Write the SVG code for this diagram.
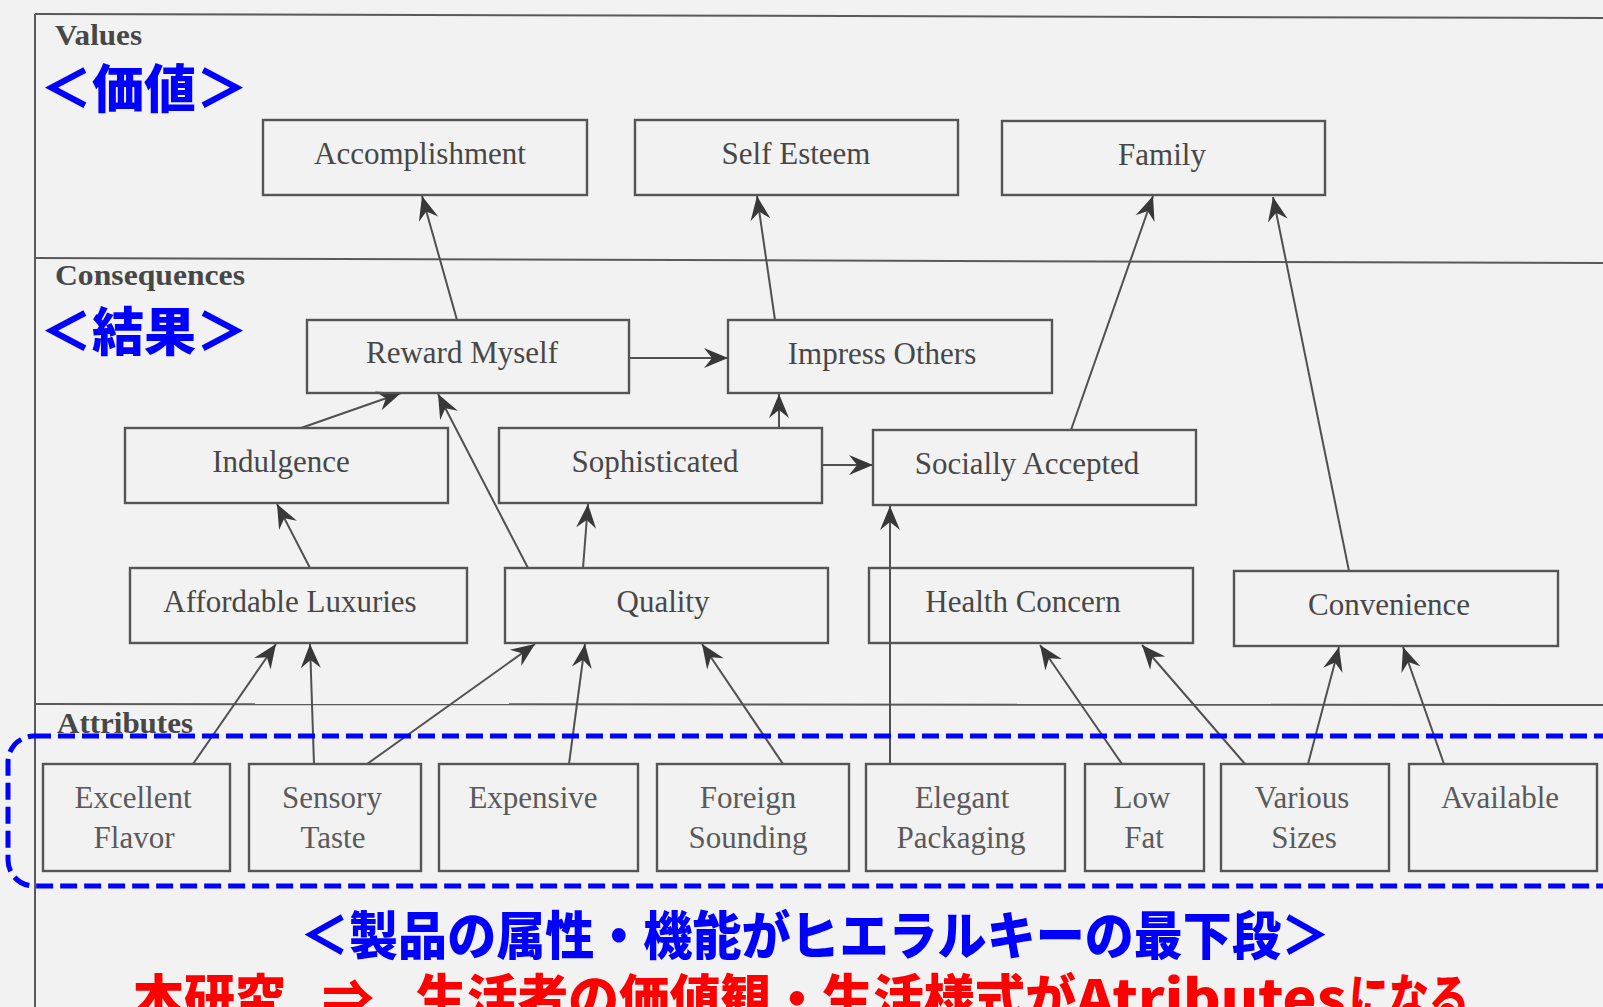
<svg xmlns="http://www.w3.org/2000/svg" width="1603" height="1007" viewBox="0 0 1603 1007">
  <defs>
    <marker id="arr" markerUnits="userSpaceOnUse" markerWidth="28" markerHeight="24" refX="0" refY="0" viewBox="-26 -12 28 24" orient="auto">
      <path d="M0,0 L-24,-10 L-16,0 L-24,10 Z" fill="#383838"/>
    </marker>
    <style>
      .frame { stroke: #5a5a5a; stroke-width: 2; fill: none; }
      .box { fill: none; stroke: #555; stroke-width: 2.4; }
      .lbl { font-family: "Liberation Serif", "Times New Roman", serif; font-size: 31px; fill: #474747; text-anchor: middle; }
      .att { fill: #5a5a5a; }
      .sec { font-family: "Liberation Serif", "Times New Roman", serif; font-size: 30px; font-weight: bold; fill: #474747; }
      .con { stroke: #505050; stroke-width: 2; fill: none; marker-end: url(#arr); }
      .jp { font-family: "Noto Sans CJK JP", "Noto Sans", sans-serif; font-weight: 900; font-size: 52px; }
      .blue { fill: #0000ff; }
      .red { fill: #ff0000; }
    </style>
  </defs>
  <rect x="0" y="0" width="1603" height="1007" fill="#f2f2f2"/>

  <g id="frame">
    <line class="frame" x1="35" y1="14" x2="1603" y2="18"/>
    <line class="frame" x1="35" y1="14" x2="35" y2="1007"/>
    <line class="frame" x1="35" y1="258" x2="1603" y2="263"/>
    <line class="frame" x1="35" y1="704" x2="1603" y2="705"/>
    <text class="sec" x="55" y="45" textLength="87" lengthAdjust="spacingAndGlyphs">Values</text>
    <text class="sec" x="55" y="285" textLength="190" lengthAdjust="spacingAndGlyphs">Consequences</text>
    <text class="sec" x="57" y="733" textLength="136" lengthAdjust="spacingAndGlyphs">Attributes</text>
  </g>

  <g id="connectors">
    <line class="con" x1="457" y1="320" x2="422" y2="196"/>
    <line class="con" x1="775" y1="320" x2="757" y2="196"/>
    <line class="con" x1="1071" y1="430" x2="1153" y2="196"/>
    <line class="con" x1="1349" y1="571" x2="1273" y2="197"/>
    <line class="con" x1="629" y1="358" x2="728" y2="358"/>
    <line class="con" x1="301" y1="428" x2="401" y2="393"/>
    <line class="con" x1="528" y1="568" x2="438" y2="394"/>
    <line class="con" x1="779" y1="428" x2="779" y2="394"/>
    <line class="con" x1="822" y1="465" x2="873" y2="465"/>
    <line class="con" x1="310" y1="568" x2="277" y2="504"/>
    <line class="con" x1="583" y1="568" x2="588" y2="504"/>
    <line class="con" x1="890" y1="764" x2="890" y2="506"/>
    <line class="con" x1="193" y1="764" x2="276" y2="644"/>
    <line class="con" x1="314" y1="764" x2="310" y2="644"/>
    <line class="con" x1="367" y1="764" x2="535" y2="644"/>
    <line class="con" x1="569" y1="764" x2="585" y2="644"/>
    <line class="con" x1="783" y1="764" x2="702" y2="644"/>
    <line class="con" x1="1122" y1="764" x2="1040" y2="645"/>
    <line class="con" x1="1245" y1="764" x2="1142" y2="645"/>
    <line class="con" x1="1308" y1="764" x2="1339" y2="647"/>
    <line class="con" x1="1444" y1="764" x2="1403" y2="647"/>
  </g>

  <g id="accomplishment"><rect class="box" x="263" y="120" width="324" height="75"/><text class="lbl" x="420" y="164">Accomplishment</text></g>
  <g id="self-esteem"><rect class="box" x="635" y="120" width="323" height="75"/><text class="lbl" x="796" y="164">Self Esteem</text></g>
  <g id="family"><rect class="box" x="1002" y="121" width="323" height="74"/><text class="lbl" x="1162" y="165">Family</text></g>

  <g id="reward-myself"><rect class="box" x="307" y="320" width="322" height="73"/><text class="lbl" x="462" y="363">Reward Myself</text></g>
  <g id="impress-others"><rect class="box" x="728" y="320" width="324" height="73"/><text class="lbl" x="882" y="364">Impress Others</text></g>

  <g id="indulgence"><rect class="box" x="125" y="428" width="323" height="75"/><text class="lbl" x="281" y="472">Indulgence</text></g>
  <g id="sophisticated"><rect class="box" x="499" y="428" width="323" height="75"/><text class="lbl" x="655" y="472">Sophisticated</text></g>
  <g id="socially-accepted"><rect class="box" x="873" y="430" width="323" height="75"/><text class="lbl" x="1027" y="474">Socially Accepted</text></g>

  <g id="affordable-luxuries"><rect class="box" x="130" y="568" width="337" height="75"/><text class="lbl" x="290" y="612">Affordable Luxuries</text></g>
  <g id="quality"><rect class="box" x="505" y="568" width="323" height="75"/><text class="lbl" x="663" y="612">Quality</text></g>
  <g id="health-concern"><rect class="box" x="869" y="568" width="324" height="75"/><text class="lbl" x="1023" y="612">Health Concern</text></g>
  <g id="convenience"><rect class="box" x="1234" y="571" width="324" height="75"/><text class="lbl" x="1389" y="615">Convenience</text></g>

  <g id="excellent-flavor"><rect class="box" x="43" y="764" width="187" height="107"/><text class="lbl att" x="133" y="808">Excellent</text><text class="lbl att" x="134" y="848">Flavor</text></g>
  <g id="sensory-taste"><rect class="box" x="249" y="764" width="172" height="107"/><text class="lbl att" x="332" y="808">Sensory</text><text class="lbl att" x="333" y="848">Taste</text></g>
  <g id="expensive"><rect class="box" x="439" y="764" width="199" height="107"/><text class="lbl att" x="533" y="808">Expensive</text></g>
  <g id="foreign-sounding"><rect class="box" x="657" y="764" width="192" height="107"/><text class="lbl att" x="748" y="808">Foreign</text><text class="lbl att" x="748" y="848">Sounding</text></g>
  <g id="elegant-packaging"><rect class="box" x="866" y="764" width="199" height="107"/><text class="lbl att" x="962" y="808">Elegant</text><text class="lbl att" x="961" y="848">Packaging</text></g>
  <g id="low-fat"><rect class="box" x="1085" y="764" width="119" height="107"/><text class="lbl att" x="1142" y="808">Low</text><text class="lbl att" x="1144" y="848">Fat</text></g>
  <g id="various-sizes"><rect class="box" x="1221" y="764" width="168" height="107"/><text class="lbl att" x="1302" y="808">Various</text><text class="lbl att" x="1304" y="848">Sizes</text></g>
  <g id="available"><rect class="box" x="1409" y="764" width="188" height="107"/><text class="lbl att" x="1500" y="808">Available</text></g>

  <g id="annotations">
    <rect x="8" y="736" width="1640" height="150" rx="26" ry="26" fill="none" stroke="#0000ff" stroke-width="5" stroke-dasharray="17 7"/>
    <text class="jp blue" x="40" y="108" textLength="208" lengthAdjust="spacingAndGlyphs">＜価値＞</text>
    <text class="jp blue" x="40" y="351" textLength="208" lengthAdjust="spacingAndGlyphs">＜結果＞</text>
    <text class="jp blue" x="300" y="955" textLength="1030" lengthAdjust="spacingAndGlyphs">＜製品の属性・機能がヒエラルキーの最下段＞</text>
    <text class="jp red" x="133" y="1018" textLength="153" lengthAdjust="spacingAndGlyphs">本研究</text>
    <text class="jp red" x="322" y="1018">⇒</text>
    <text class="jp red" x="416" y="1018" textLength="660" lengthAdjust="spacingAndGlyphs">生活者の価値観・生活様式が</text>
    <text class="jp red" x="1076" y="1018" textLength="270" lengthAdjust="spacingAndGlyphs">Atributes</text>
    <text class="jp red" x="1349" y="1018" textLength="120" lengthAdjust="spacingAndGlyphs">になる</text>
  </g>
</svg>
